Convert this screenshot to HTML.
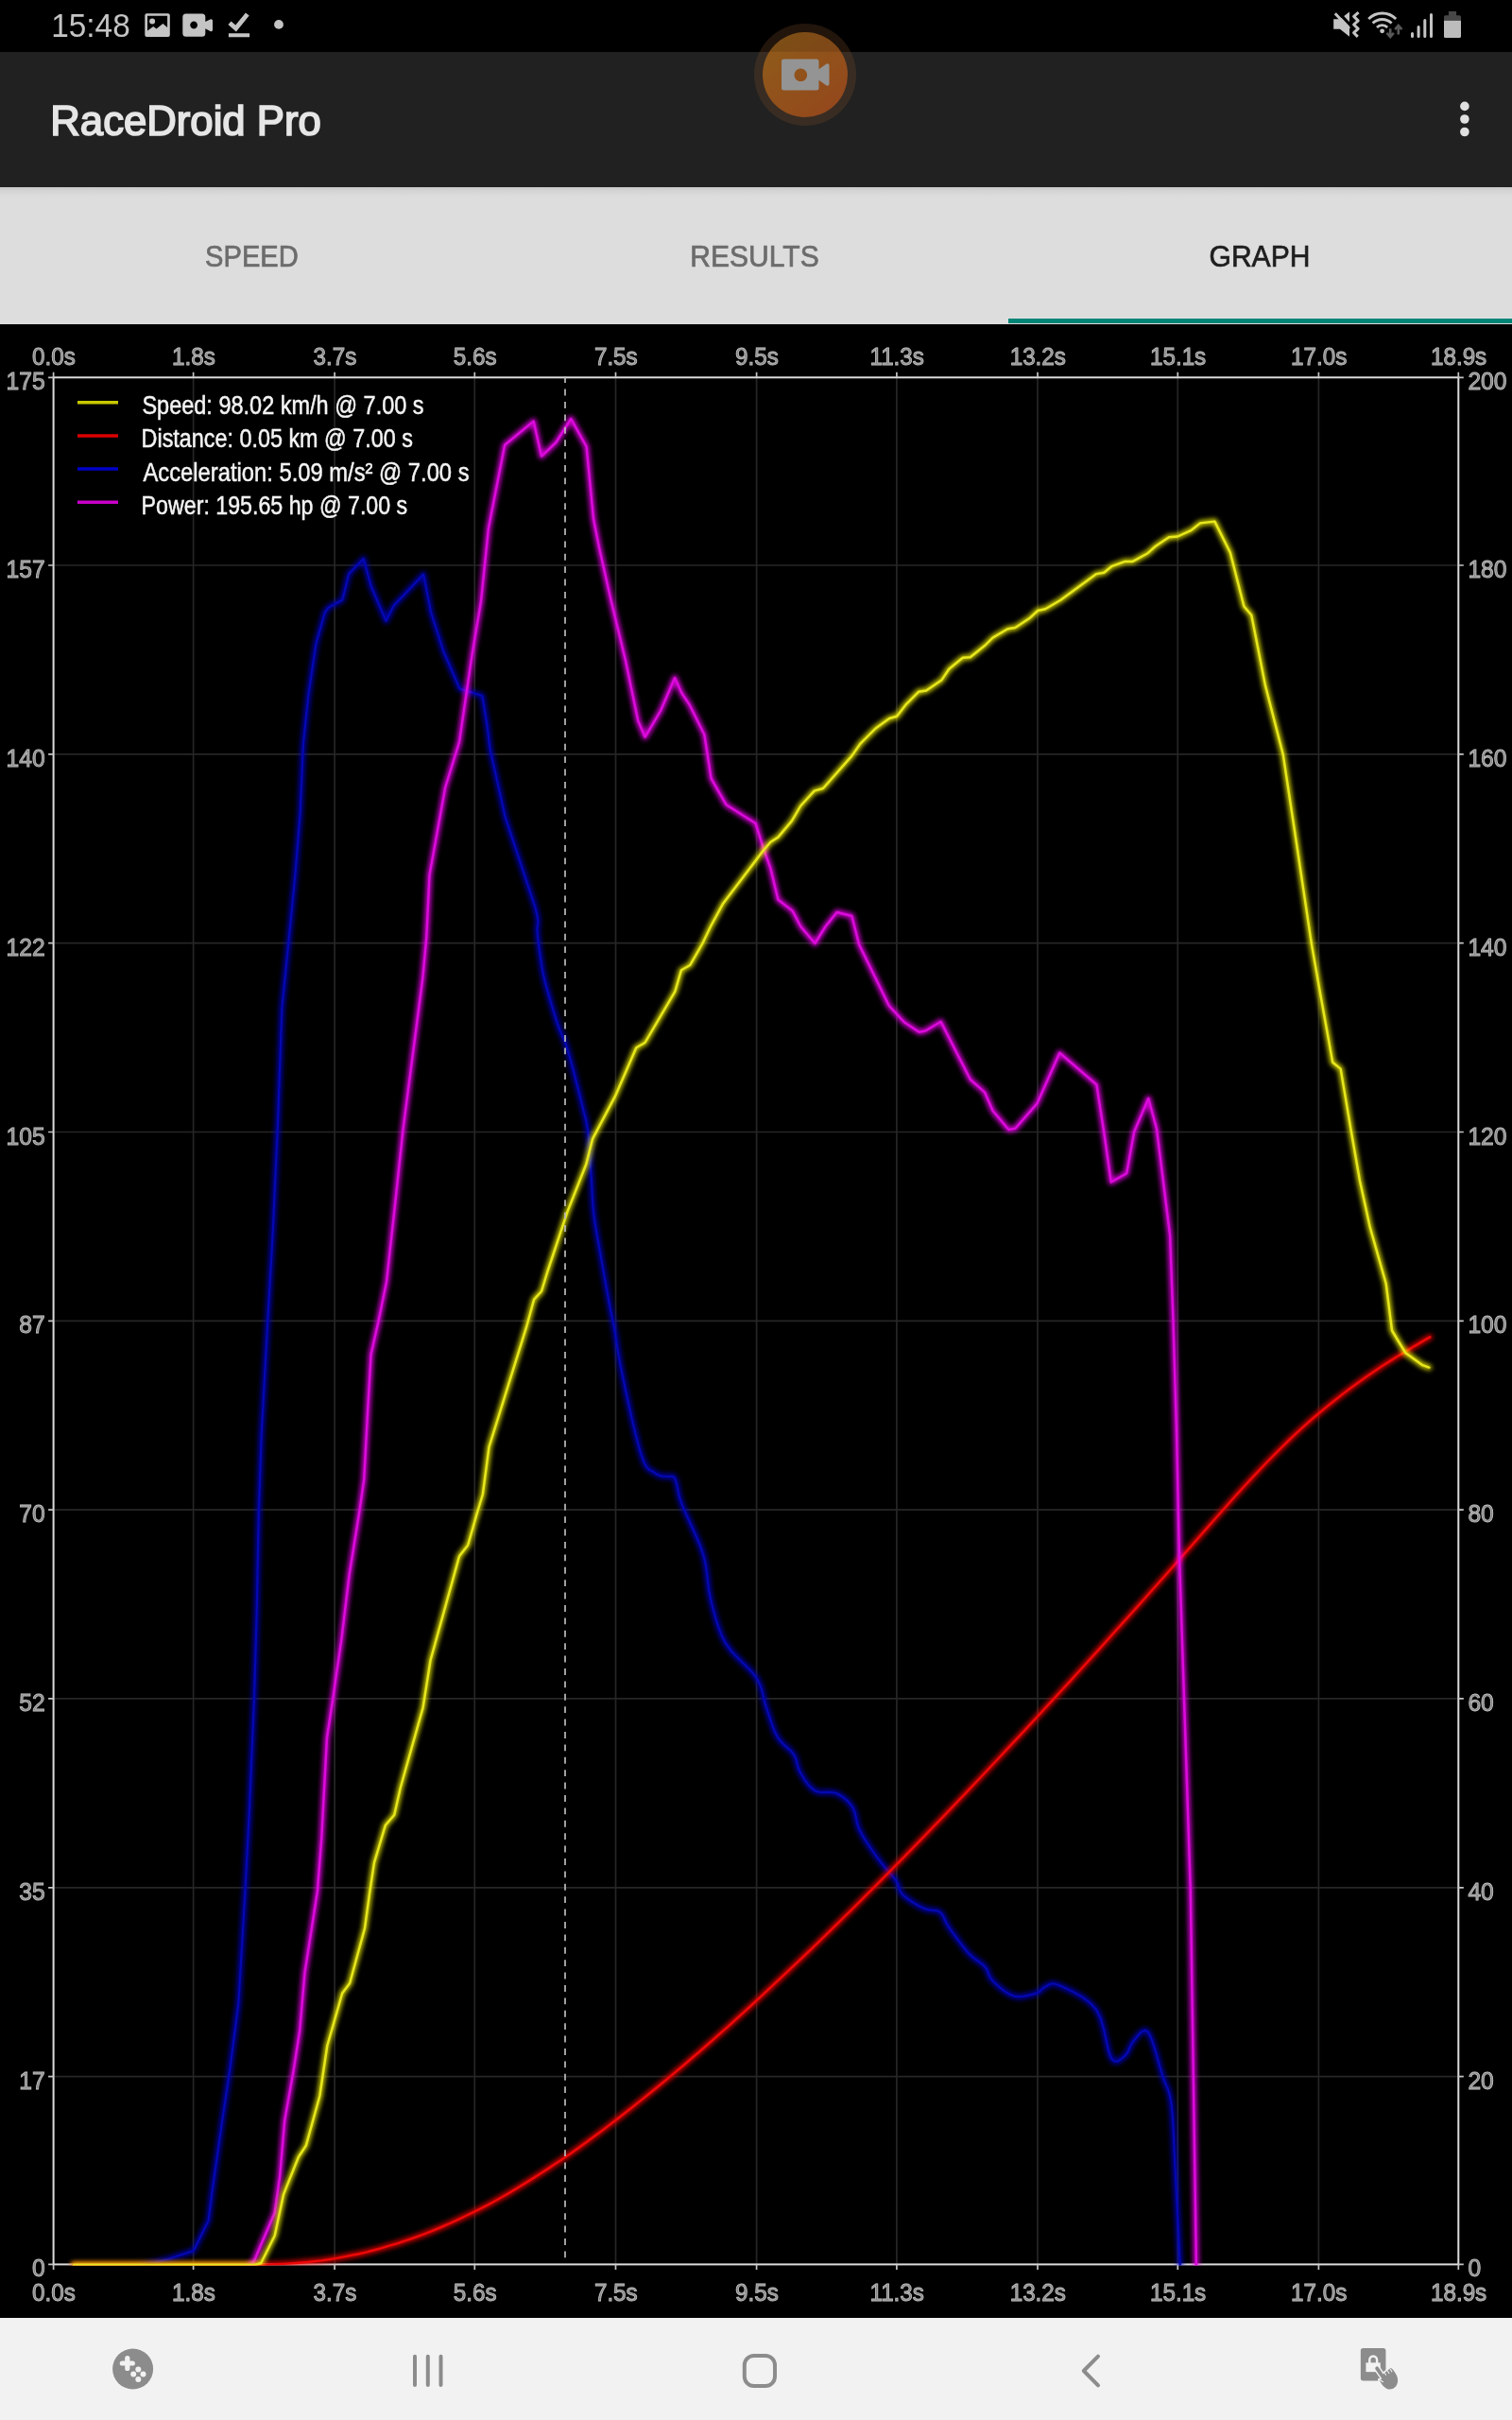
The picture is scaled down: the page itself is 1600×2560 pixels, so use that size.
<!DOCTYPE html>
<html><head><meta charset="utf-8"><title>RaceDroid Pro</title>
<style>
html,body{margin:0;padding:0;background:#000;}
body{width:1600px;height:2560px;position:relative;overflow:hidden;font-family:"Liberation Sans",sans-serif;}
svg{position:absolute;left:0;top:0;display:block;will-change:transform;font-family:"Liberation Sans",sans-serif;}
#appbar{position:absolute;left:0;top:54.5px;width:1600px;height:143.9px;background:#212121;}
#tabs{position:absolute;left:0;top:198px;width:1600px;height:144.5px;background:#dddddd;}
#tabshadow{position:absolute;left:0;top:198.4px;width:1600px;height:11px;background:linear-gradient(#c9c9c9,#d4d4d4 35%,#dadada 70%,#dddddd);}
#ind{position:absolute;left:1066.7px;top:337.4px;width:533.3px;height:5px;background:#008577;}
#nav{position:absolute;left:0;top:2452px;width:1600px;height:108px;background:#f2f2f2;}
</style></head><body>
<div id="appbar"></div>
<div id="tabs"></div><div id="tabshadow"></div><div id="ind"></div>
<div id="nav"></div>
<svg width="1600" height="2560" viewBox="0 0 1600 2560">
<defs>
<filter id="glow" x="0" y="0" width="1600" height="2560" filterUnits="userSpaceOnUse">
<feGaussianBlur stdDeviation="2.7"/>
</filter>
<clipPath id="plot"><rect x="55.6" y="398.3" width="1488.7" height="1998.1"/></clipPath>
</defs>

<path d="M204.6 399.3 V2395.4 M354.1 399.3 V2395.4 M502.3 399.3 V2395.4 M651.5 399.3 V2395.4 M800.6 399.3 V2395.4 M948.9 399.3 V2395.4 M1098 399.3 V2395.4 M1246.3 399.3 V2395.4 M1395.4 399.3 V2395.4 M56.6 598 H1543.3 M56.6 797.8 H1543.3 M56.6 997.6 H1543.3 M56.6 1197.5 H1543.3 M56.6 1397.3 H1543.3 M56.6 1597.1 H1543.3 M56.6 1796.9 H1543.3 M56.6 1996.8 H1543.3 M56.6 2196.6 H1543.3" stroke="#262626" stroke-width="1.7" fill="none"/>
<rect x="56.6" y="399.3" width="1486.7" height="1996.1" fill="none" stroke="#dcdcdc" stroke-width="2"/>
<path d="M56.6 399.3 v-5.5 M56.6 2395.4 v5.5 M204.6 399.3 v-5.5 M204.6 2395.4 v5.5 M354.1 399.3 v-5.5 M354.1 2395.4 v5.5 M502.3 399.3 v-5.5 M502.3 2395.4 v5.5 M651.5 399.3 v-5.5 M651.5 2395.4 v5.5 M800.6 399.3 v-5.5 M800.6 2395.4 v5.5 M948.9 399.3 v-5.5 M948.9 2395.4 v5.5 M1098 399.3 v-5.5 M1098 2395.4 v5.5 M1246.3 399.3 v-5.5 M1246.3 2395.4 v5.5 M1395.4 399.3 v-5.5 M1395.4 2395.4 v5.5 M1543.3 399.3 v-5.5 M1543.3 2395.4 v5.5 M56.6 399.3 h-5.5 M1543.3 399.3 h5.5 M56.6 598 h-5.5 M1543.3 598 h5.5 M56.6 797.8 h-5.5 M1543.3 797.8 h5.5 M56.6 997.6 h-5.5 M1543.3 997.6 h5.5 M56.6 1197.5 h-5.5 M1543.3 1197.5 h5.5 M56.6 1397.3 h-5.5 M1543.3 1397.3 h5.5 M56.6 1597.1 h-5.5 M1543.3 1597.1 h5.5 M56.6 1796.9 h-5.5 M1543.3 1796.9 h5.5 M56.6 1996.8 h-5.5 M1543.3 1996.8 h5.5 M56.6 2196.6 h-5.5 M1543.3 2196.6 h5.5 M56.6 2395.4 h-5.5 M1543.3 2395.4 h5.5" stroke="#c4c4c4" stroke-width="1.7" fill="none"/>
<g clip-path="url(#plot)"><path d="M78 2401 L140 2401 L158 2395 L177 2390 L204.8 2381 L220.6 2349 L224.6 2317.5 L235.2 2243.4 L243.1 2190.5 L252.4 2119 L256.3 2053 L259.5 2000 L263.8 1917.5 L269 1796.3 L271.7 1705.8 L273.8 1600 L276.7 1517.5 L283.3 1397.6 L288.6 1305.8 L293.9 1190 L298.4 1065.7 L305.3 997.7 L312.4 925.5 L317.7 859.4 L320.4 798 L320.8 788 L326.5 734 L334.4 681 L343.7 648 L347.6 642.6 L362.2 634.7 L369.3 607 L384.7 591 L392.6 620 L408.5 657 L416.4 641 L448.1 607.5 L456.1 648 L469.3 689 L486.5 728.6 L510.3 736 L515.6 768 L518.5 792 L534.7 864.7 L566.4 959.9 L568.7 969.4 L569.3 975 L569 978.3 L568.5 981.1 L568.5 985 L569 990 L569.5 994.9 L570.1 999.8 L570.7 1004.8 L571.5 1010 L572.3 1015.2 L573 1020.2 L573.9 1025.6 L575.1 1031.4 L576.7 1038.2 L578.9 1046.4 L581.6 1055.9 L584.5 1065.7 L587.4 1075.1 L590 1083.2 L592.2 1089.2 L594.1 1093.6 L596 1097.7 L598.1 1102.8 L600.5 1110 L603.5 1120.5 L607 1133.4 L610.5 1147.1 L613.8 1160 L616.4 1170.5 L618.2 1177.8 L619.6 1182.8 L620.5 1187 L621.3 1191.5 L622.2 1197.7 L623.1 1205.9 L623.8 1215.4 L624.5 1225.4 L625.1 1235.4 L625.7 1244.6 L626.2 1253 L626.6 1261 L627 1268.7 L627.5 1276.4 L628.3 1284.2 L629.3 1291.9 L630.5 1299.3 L631.8 1306.9 L633.3 1315 L634.9 1324 L636.8 1334.6 L638.9 1346.6 L641.1 1358.9 L643.2 1370.4 L645 1380 L646.3 1387 L647.4 1392.1 L648.3 1396.4 L649.2 1400.8 L650.3 1406.5 L651.4 1413.1 L652.5 1420.1 L653.6 1427.6 L655.1 1436.2 L656.9 1446 L659.4 1458 L662.3 1472.1 L665.5 1486.7 L668.6 1500.6 L671.4 1512.3 L673.8 1521.8 L675.9 1530 L678 1537.1 L680 1543 L682 1548 L684.1 1551.7 L686.2 1554 L688.2 1555.4 L690.2 1556.4 L692 1557.5 L693.6 1558.7 L695.1 1559.5 L696.4 1560.2 L697.8 1560.7 L699.2 1561.2 L700.7 1561.6 L702.4 1561.7 L704 1561.8 L705.5 1561.9 L707 1562 L708.4 1562 L709.7 1561.8 L711 1561.7 L712.2 1561.8 L713.2 1562.5 L714 1563.7 L714.6 1565.2 L715.2 1567 L715.8 1569.3 L716.5 1572 L717.1 1574.7 L717.6 1577.5 L718.3 1580.9 L719.5 1585.4 L721.7 1591.6 L725.3 1600.1 L730.2 1610.7 L735.4 1622.2 L740.4 1633.8 L744.2 1644.6 L746.6 1654.5 L748 1664.1 L749.1 1673.5 L750.2 1682.8 L752.1 1692.2 L754.5 1701.7 L757.1 1711.3 L760.1 1720.7 L763.6 1729.9 L768 1738.5 L773.8 1746.5 L780.9 1754.1 L788.3 1761.3 L795.2 1768.2 L800.5 1775 L804 1781.5 L806.1 1787.7 L807.6 1793.7 L809 1799.7 L810.8 1805.8 L813 1812.3 L815.2 1819.1 L817.5 1825.8 L820 1832.1 L822.8 1837.6 L826.1 1842.1 L829.8 1845.9 L833.6 1849.3 L837.2 1852.5 L840 1856 L841.9 1859.7 L843 1863.4 L843.8 1867.1 L844.9 1870.8 L846.6 1874.6 L849.1 1878.8 L851.9 1883.3 L855.2 1887.7 L858.7 1891.5 L862.4 1894.4 L866.6 1895.8 L871.2 1896.1 L876 1895.9 L880.6 1896 L884.9 1897 L888.8 1899 L892.6 1901.5 L896.1 1904.4 L899.3 1907.8 L902.1 1911.6 L904.1 1915.9 L905.4 1920.7 L906.4 1925.8 L907.8 1931.3 L910 1936.8 L913.2 1942.7 L917.2 1949 L921.5 1955.4 L925.8 1961.5 L929.9 1967.2 L933.9 1972.3 L938 1977.2 L941.9 1981.7 L945.5 1985.8 L948.4 1989.7 L950.2 1993.1 L951.1 1996.1 L951.8 1998.8 L952.9 2001.4 L955 2004.2 L958.6 2007.3 L963.1 2010.5 L968.1 2013.7 L973.1 2016.6 L977.5 2018.8 L981.4 2020.1 L985.1 2020.6 L988.6 2020.9 L991.9 2021.4 L994.7 2022.8 L996.9 2025 L998.4 2027.7 L999.8 2030.8 L1001.5 2034.5 L1004 2038.6 L1007.5 2043.6 L1011.8 2049.5 L1016.4 2055.7 L1020.9 2061.5 L1025.1 2066.4 L1028.9 2070.1 L1032.7 2073 L1036.3 2075.5 L1039.5 2077.9 L1042.3 2080.5 L1044.3 2083.4 L1045.5 2086.3 L1046.5 2089.2 L1047.9 2092.1 L1050.3 2095.2 L1053.9 2098.7 L1058.2 2102.6 L1063 2106.4 L1068 2109.5 L1072.8 2111.6 L1077.7 2112.3 L1082.9 2111.9 L1088.1 2110.9 L1092.8 2109.7 L1096.6 2108.5 L1099.3 2107.3 L1101.1 2105.9 L1102.4 2104.4 L1103.8 2103 L1105.8 2101.9 L1108 2100.8 L1110.1 2099.5 L1112.5 2098.5 L1115.8 2098.5 L1120.4 2100 L1127.1 2103 L1135.6 2107.1 L1144.7 2112.2 L1153.2 2118.5 L1160 2125.7 L1164.7 2135.2 L1168.1 2147 L1170.8 2159.3 L1173.2 2169.9 L1175.9 2177.2 L1179 2180.4 L1182.1 2180.7 L1185.1 2179.2 L1187.9 2176.8 L1190.5 2174.6 L1192.6 2172.2 L1194.3 2168.9 L1195.9 2165.2 L1197.6 2161.7 L1199.7 2158.7 L1202.3 2155.5 L1205.3 2151.9 L1208.5 2148.9 L1211.7 2147.7 L1214.8 2149.5 L1218 2155.5 L1221.2 2164.8 L1224.5 2175.9 L1227.5 2186.8 L1230.2 2195.8 L1232.5 2202.1 L1234.6 2206.9 L1236.4 2211.4 L1238 2217 L1239.4 2224.9 L1240.5 2235.1 L1241.3 2246.8 L1242 2260 L1242.6 2274.7 L1243.4 2291 L1244.4 2310.7 L1245.6 2333.9 L1246.8 2357.6 L1247.9 2379.1 L1248.7 2395.5 L1249.2 2405.9 L1249.6 2412.2 L1249.8 2415.8 L1249.9 2417.9 L1250 2420" stroke="#0000e0" stroke-width="6" fill="none" stroke-linejoin="round" stroke-linecap="round" filter="url(#glow)" opacity="0.72"/><path d="M78 2401 L140 2401 L158 2395 L177 2390 L204.8 2381 L220.6 2349 L224.6 2317.5 L235.2 2243.4 L243.1 2190.5 L252.4 2119 L256.3 2053 L259.5 2000 L263.8 1917.5 L269 1796.3 L271.7 1705.8 L273.8 1600 L276.7 1517.5 L283.3 1397.6 L288.6 1305.8 L293.9 1190 L298.4 1065.7 L305.3 997.7 L312.4 925.5 L317.7 859.4 L320.4 798 L320.8 788 L326.5 734 L334.4 681 L343.7 648 L347.6 642.6 L362.2 634.7 L369.3 607 L384.7 591 L392.6 620 L408.5 657 L416.4 641 L448.1 607.5 L456.1 648 L469.3 689 L486.5 728.6 L510.3 736 L515.6 768 L518.5 792 L534.7 864.7 L566.4 959.9 L568.7 969.4 L569.3 975 L569 978.3 L568.5 981.1 L568.5 985 L569 990 L569.5 994.9 L570.1 999.8 L570.7 1004.8 L571.5 1010 L572.3 1015.2 L573 1020.2 L573.9 1025.6 L575.1 1031.4 L576.7 1038.2 L578.9 1046.4 L581.6 1055.9 L584.5 1065.7 L587.4 1075.1 L590 1083.2 L592.2 1089.2 L594.1 1093.6 L596 1097.7 L598.1 1102.8 L600.5 1110 L603.5 1120.5 L607 1133.4 L610.5 1147.1 L613.8 1160 L616.4 1170.5 L618.2 1177.8 L619.6 1182.8 L620.5 1187 L621.3 1191.5 L622.2 1197.7 L623.1 1205.9 L623.8 1215.4 L624.5 1225.4 L625.1 1235.4 L625.7 1244.6 L626.2 1253 L626.6 1261 L627 1268.7 L627.5 1276.4 L628.3 1284.2 L629.3 1291.9 L630.5 1299.3 L631.8 1306.9 L633.3 1315 L634.9 1324 L636.8 1334.6 L638.9 1346.6 L641.1 1358.9 L643.2 1370.4 L645 1380 L646.3 1387 L647.4 1392.1 L648.3 1396.4 L649.2 1400.8 L650.3 1406.5 L651.4 1413.1 L652.5 1420.1 L653.6 1427.6 L655.1 1436.2 L656.9 1446 L659.4 1458 L662.3 1472.1 L665.5 1486.7 L668.6 1500.6 L671.4 1512.3 L673.8 1521.8 L675.9 1530 L678 1537.1 L680 1543 L682 1548 L684.1 1551.7 L686.2 1554 L688.2 1555.4 L690.2 1556.4 L692 1557.5 L693.6 1558.7 L695.1 1559.5 L696.4 1560.2 L697.8 1560.7 L699.2 1561.2 L700.7 1561.6 L702.4 1561.7 L704 1561.8 L705.5 1561.9 L707 1562 L708.4 1562 L709.7 1561.8 L711 1561.7 L712.2 1561.8 L713.2 1562.5 L714 1563.7 L714.6 1565.2 L715.2 1567 L715.8 1569.3 L716.5 1572 L717.1 1574.7 L717.6 1577.5 L718.3 1580.9 L719.5 1585.4 L721.7 1591.6 L725.3 1600.1 L730.2 1610.7 L735.4 1622.2 L740.4 1633.8 L744.2 1644.6 L746.6 1654.5 L748 1664.1 L749.1 1673.5 L750.2 1682.8 L752.1 1692.2 L754.5 1701.7 L757.1 1711.3 L760.1 1720.7 L763.6 1729.9 L768 1738.5 L773.8 1746.5 L780.9 1754.1 L788.3 1761.3 L795.2 1768.2 L800.5 1775 L804 1781.5 L806.1 1787.7 L807.6 1793.7 L809 1799.7 L810.8 1805.8 L813 1812.3 L815.2 1819.1 L817.5 1825.8 L820 1832.1 L822.8 1837.6 L826.1 1842.1 L829.8 1845.9 L833.6 1849.3 L837.2 1852.5 L840 1856 L841.9 1859.7 L843 1863.4 L843.8 1867.1 L844.9 1870.8 L846.6 1874.6 L849.1 1878.8 L851.9 1883.3 L855.2 1887.7 L858.7 1891.5 L862.4 1894.4 L866.6 1895.8 L871.2 1896.1 L876 1895.9 L880.6 1896 L884.9 1897 L888.8 1899 L892.6 1901.5 L896.1 1904.4 L899.3 1907.8 L902.1 1911.6 L904.1 1915.9 L905.4 1920.7 L906.4 1925.8 L907.8 1931.3 L910 1936.8 L913.2 1942.7 L917.2 1949 L921.5 1955.4 L925.8 1961.5 L929.9 1967.2 L933.9 1972.3 L938 1977.2 L941.9 1981.7 L945.5 1985.8 L948.4 1989.7 L950.2 1993.1 L951.1 1996.1 L951.8 1998.8 L952.9 2001.4 L955 2004.2 L958.6 2007.3 L963.1 2010.5 L968.1 2013.7 L973.1 2016.6 L977.5 2018.8 L981.4 2020.1 L985.1 2020.6 L988.6 2020.9 L991.9 2021.4 L994.7 2022.8 L996.9 2025 L998.4 2027.7 L999.8 2030.8 L1001.5 2034.5 L1004 2038.6 L1007.5 2043.6 L1011.8 2049.5 L1016.4 2055.7 L1020.9 2061.5 L1025.1 2066.4 L1028.9 2070.1 L1032.7 2073 L1036.3 2075.5 L1039.5 2077.9 L1042.3 2080.5 L1044.3 2083.4 L1045.5 2086.3 L1046.5 2089.2 L1047.9 2092.1 L1050.3 2095.2 L1053.9 2098.7 L1058.2 2102.6 L1063 2106.4 L1068 2109.5 L1072.8 2111.6 L1077.7 2112.3 L1082.9 2111.9 L1088.1 2110.9 L1092.8 2109.7 L1096.6 2108.5 L1099.3 2107.3 L1101.1 2105.9 L1102.4 2104.4 L1103.8 2103 L1105.8 2101.9 L1108 2100.8 L1110.1 2099.5 L1112.5 2098.5 L1115.8 2098.5 L1120.4 2100 L1127.1 2103 L1135.6 2107.1 L1144.7 2112.2 L1153.2 2118.5 L1160 2125.7 L1164.7 2135.2 L1168.1 2147 L1170.8 2159.3 L1173.2 2169.9 L1175.9 2177.2 L1179 2180.4 L1182.1 2180.7 L1185.1 2179.2 L1187.9 2176.8 L1190.5 2174.6 L1192.6 2172.2 L1194.3 2168.9 L1195.9 2165.2 L1197.6 2161.7 L1199.7 2158.7 L1202.3 2155.5 L1205.3 2151.9 L1208.5 2148.9 L1211.7 2147.7 L1214.8 2149.5 L1218 2155.5 L1221.2 2164.8 L1224.5 2175.9 L1227.5 2186.8 L1230.2 2195.8 L1232.5 2202.1 L1234.6 2206.9 L1236.4 2211.4 L1238 2217 L1239.4 2224.9 L1240.5 2235.1 L1241.3 2246.8 L1242 2260 L1242.6 2274.7 L1243.4 2291 L1244.4 2310.7 L1245.6 2333.9 L1246.8 2357.6 L1247.9 2379.1 L1248.7 2395.5 L1249.2 2405.9 L1249.6 2412.2 L1249.8 2415.8 L1249.9 2417.9 L1250 2420" stroke="#0408b2" stroke-width="2.15" fill="none" stroke-linejoin="round" stroke-linecap="round"/></g>
<g clip-path="url(#plot)"><path d="M78 2396 L270 2396 L284 2395.6 L292 2395.3 L300 2394.9 L308 2394.4 L316 2393.8 L324 2393.1 L332 2392.3 L340 2391.4 L348 2390.2 L356 2388.9 L364 2387.4 L372 2385.8 L380 2384.2 L388 2382.4 L396 2380.3 L404 2378.1 L412 2375.7 L420 2373.3 L428 2370.7 L436 2368 L444 2365.1 L452 2362.1 L460 2358.9 L468 2355.5 L476 2352 L484 2348.3 L492 2344.5 L500 2340.7 L508 2336.7 L516 2332.6 L524 2328.2 L532 2323.7 L540 2319.1 L548 2314.3 L556 2309.4 L564 2304.4 L572 2299.3 L580 2294.1 L588 2288.8 L596 2283.4 L604 2277.9 L612 2272.2 L620 2266.5 L628 2260.6 L636 2254.7 L644 2248.6 L652 2242.5 L660 2236.3 L668 2230 L676 2223.6 L684 2217.2 L692 2210.7 L700 2204.2 L708 2197.6 L716 2190.9 L724 2184.2 L732 2177.3 L740 2170.5 L748 2163.5 L756 2156.5 L764 2149.4 L772 2142.3 L780 2135 L788 2127.8 L796 2120.5 L804 2113.1 L812 2105.7 L820 2098.2 L828 2090.7 L836 2083.2 L844 2075.6 L852 2068 L860 2060.3 L868 2052.6 L876 2044.8 L884 2037 L892 2029.2 L900 2021.3 L908 2013.4 L916 2005.4 L924 1997.4 L932 1989.4 L940 1981.3 L948 1973.2 L956 1965.1 L964 1956.9 L972 1948.7 L980 1940.4 L988 1932.2 L996 1923.9 L1004 1915.6 L1012 1907.2 L1020 1898.8 L1028 1890.4 L1036 1882 L1044 1873.5 L1052 1865 L1060 1856.5 L1068 1847.9 L1076 1839.4 L1084 1830.8 L1092 1822.2 L1100 1813.5 L1108 1804.9 L1116 1796.2 L1124 1787.5 L1132 1778.8 L1140 1770 L1148 1761.2 L1156 1752.4 L1164 1743.6 L1172 1734.7 L1180 1725.8 L1188 1716.9 L1196 1708 L1204 1699.1 L1212 1690.2 L1220 1681.2 L1228 1672.2 L1236 1663.2 L1244 1654.2 L1252 1645.1 L1260 1636.1 L1268 1627 L1276 1617.9 L1284 1608.8 L1292 1599.7 L1300 1590.7 L1308 1581.8 L1316 1573 L1324 1564.4 L1332 1555.8 L1340 1547.5 L1348 1539.3 L1356 1531.3 L1364 1523.5 L1372 1515.9 L1380 1508.6 L1388 1501.5 L1396 1494.7 L1404 1488.1 L1412 1481.7 L1420 1475.4 L1428 1469.3 L1436 1463.4 L1444 1457.7 L1452 1452.2 L1460 1446.8 L1468 1441.6 L1476 1436.6 L1484 1431.7 L1492 1426.9 L1500 1422.1 L1508 1417.4 L1513.3 1414.4" stroke="#ff0000" stroke-width="6" fill="none" stroke-linejoin="round" stroke-linecap="round" filter="url(#glow)" opacity="0.8"/><path d="M78 2396 L270 2396 L284 2395.6 L292 2395.3 L300 2394.9 L308 2394.4 L316 2393.8 L324 2393.1 L332 2392.3 L340 2391.4 L348 2390.2 L356 2388.9 L364 2387.4 L372 2385.8 L380 2384.2 L388 2382.4 L396 2380.3 L404 2378.1 L412 2375.7 L420 2373.3 L428 2370.7 L436 2368 L444 2365.1 L452 2362.1 L460 2358.9 L468 2355.5 L476 2352 L484 2348.3 L492 2344.5 L500 2340.7 L508 2336.7 L516 2332.6 L524 2328.2 L532 2323.7 L540 2319.1 L548 2314.3 L556 2309.4 L564 2304.4 L572 2299.3 L580 2294.1 L588 2288.8 L596 2283.4 L604 2277.9 L612 2272.2 L620 2266.5 L628 2260.6 L636 2254.7 L644 2248.6 L652 2242.5 L660 2236.3 L668 2230 L676 2223.6 L684 2217.2 L692 2210.7 L700 2204.2 L708 2197.6 L716 2190.9 L724 2184.2 L732 2177.3 L740 2170.5 L748 2163.5 L756 2156.5 L764 2149.4 L772 2142.3 L780 2135 L788 2127.8 L796 2120.5 L804 2113.1 L812 2105.7 L820 2098.2 L828 2090.7 L836 2083.2 L844 2075.6 L852 2068 L860 2060.3 L868 2052.6 L876 2044.8 L884 2037 L892 2029.2 L900 2021.3 L908 2013.4 L916 2005.4 L924 1997.4 L932 1989.4 L940 1981.3 L948 1973.2 L956 1965.1 L964 1956.9 L972 1948.7 L980 1940.4 L988 1932.2 L996 1923.9 L1004 1915.6 L1012 1907.2 L1020 1898.8 L1028 1890.4 L1036 1882 L1044 1873.5 L1052 1865 L1060 1856.5 L1068 1847.9 L1076 1839.4 L1084 1830.8 L1092 1822.2 L1100 1813.5 L1108 1804.9 L1116 1796.2 L1124 1787.5 L1132 1778.8 L1140 1770 L1148 1761.2 L1156 1752.4 L1164 1743.6 L1172 1734.7 L1180 1725.8 L1188 1716.9 L1196 1708 L1204 1699.1 L1212 1690.2 L1220 1681.2 L1228 1672.2 L1236 1663.2 L1244 1654.2 L1252 1645.1 L1260 1636.1 L1268 1627 L1276 1617.9 L1284 1608.8 L1292 1599.7 L1300 1590.7 L1308 1581.8 L1316 1573 L1324 1564.4 L1332 1555.8 L1340 1547.5 L1348 1539.3 L1356 1531.3 L1364 1523.5 L1372 1515.9 L1380 1508.6 L1388 1501.5 L1396 1494.7 L1404 1488.1 L1412 1481.7 L1420 1475.4 L1428 1469.3 L1436 1463.4 L1444 1457.7 L1452 1452.2 L1460 1446.8 L1468 1441.6 L1476 1436.6 L1484 1431.7 L1492 1426.9 L1500 1422.1 L1508 1417.4 L1513.3 1414.4" stroke="#ee0808" stroke-width="2.45" fill="none" stroke-linejoin="round" stroke-linecap="round"/></g>
<g clip-path="url(#plot)"><path d="M78 2401 L261 2401 L269 2391.5 L290.6 2341 L296.2 2301.6 L301.2 2243.4 L310.6 2190.5 L317.2 2148 L322.5 2087 L336 2000 L340.3 1944 L346 1838 L352.4 1796.3 L361.6 1732.3 L369.6 1666 L380.2 1600 L385.2 1565 L389.2 1491 L392.6 1432.8 L400.5 1397.6 L409 1356 L416.9 1284.7 L426.5 1195 L447.4 1034 L451.3 991.6 L454.5 925.5 L471.2 833 L486 785 L499.7 691.6 L509 636 L516.9 559 L534.1 470.7 L564.6 445.6 L573 482.6 L588.4 468 L604.2 443 L620.6 472.5 L628 548.7 L634.2 580 L646.1 633 L662 699 L675.2 762.5 L682.6 779.7 L699 752 L714.1 717 L721.5 733.4 L729.5 745.3 L745.3 777 L749.3 802.2 L752.5 823.4 L768.4 851.2 L799.6 871 L807 894.8 L815.4 918.6 L823.4 951.7 L838.7 963.6 L847.2 980 L862.4 998 L873.6 980 L885.6 965 L901.4 969 L909.1 999.2 L940.8 1064 L956.7 1081.2 L972.6 1091.8 L979.2 1090.5 L995.6 1080.7 L1026.8 1142 L1041.9 1155.3 L1050.6 1175 L1067.3 1195 L1074.4 1193.7 L1097.5 1167.2 L1121.3 1113.8 L1160.4 1147.4 L1168.4 1199 L1175.8 1250.5 L1192.2 1241.3 L1200.1 1197.6 L1215.2 1161.9 L1223.9 1193.7 L1231 1250 L1238.1 1306.9 L1241.5 1397.6 L1245 1514.6 L1248.1 1650 L1259.8 2000 L1265.9 2395.5 L1266.3 2420" stroke="#ff00ff" stroke-width="6" fill="none" stroke-linejoin="round" stroke-linecap="round" filter="url(#glow)" opacity="0.8"/><path d="M78 2401 L261 2401 L269 2391.5 L290.6 2341 L296.2 2301.6 L301.2 2243.4 L310.6 2190.5 L317.2 2148 L322.5 2087 L336 2000 L340.3 1944 L346 1838 L352.4 1796.3 L361.6 1732.3 L369.6 1666 L380.2 1600 L385.2 1565 L389.2 1491 L392.6 1432.8 L400.5 1397.6 L409 1356 L416.9 1284.7 L426.5 1195 L447.4 1034 L451.3 991.6 L454.5 925.5 L471.2 833 L486 785 L499.7 691.6 L509 636 L516.9 559 L534.1 470.7 L564.6 445.6 L573 482.6 L588.4 468 L604.2 443 L620.6 472.5 L628 548.7 L634.2 580 L646.1 633 L662 699 L675.2 762.5 L682.6 779.7 L699 752 L714.1 717 L721.5 733.4 L729.5 745.3 L745.3 777 L749.3 802.2 L752.5 823.4 L768.4 851.2 L799.6 871 L807 894.8 L815.4 918.6 L823.4 951.7 L838.7 963.6 L847.2 980 L862.4 998 L873.6 980 L885.6 965 L901.4 969 L909.1 999.2 L940.8 1064 L956.7 1081.2 L972.6 1091.8 L979.2 1090.5 L995.6 1080.7 L1026.8 1142 L1041.9 1155.3 L1050.6 1175 L1067.3 1195 L1074.4 1193.7 L1097.5 1167.2 L1121.3 1113.8 L1160.4 1147.4 L1168.4 1199 L1175.8 1250.5 L1192.2 1241.3 L1200.1 1197.6 L1215.2 1161.9 L1223.9 1193.7 L1231 1250 L1238.1 1306.9 L1241.5 1397.6 L1245 1514.6 L1248.1 1650 L1259.8 2000 L1265.9 2395.5 L1266.3 2420" stroke="#dc0adc" stroke-width="2.45" fill="none" stroke-linejoin="round" stroke-linecap="round"/></g>
<g clip-path="url(#plot)"><path d="M78 2396 L270 2396 L276.2 2394 L290.7 2365 L300 2321.4 L315.9 2281.7 L323.8 2269.8 L338.4 2217 L342.3 2190.5 L346.3 2164 L362.2 2108.5 L370.1 2098 L386 2039.7 L391.5 2000 L396 1970.4 L407.9 1930.7 L417.2 1920 L423.8 1891 L447.6 1806.3 L455.6 1756 L486 1646.3 L495.2 1634.4 L505 1600 L510.8 1581 L517.5 1530.7 L557.1 1403.7 L565.1 1374.6 L573 1366 L579.4 1345 L600.5 1281.6 L620.4 1231.3 L627 1204.9 L650.8 1159.9 L673.3 1108.3 L682.5 1103 L714.3 1048.8 L720.9 1026.3 L730.2 1021 L743.4 998 L752 980 L765.2 955.7 L807.5 900 L815.4 890.8 L823.4 885.6 L837.9 868.4 L847.2 852.5 L861.7 836.6 L871 834 L901.4 799.6 L910.7 786.3 L926.6 770.5 L941.1 760 L949 757.8 L958.3 745.7 L972 731.8 L980.2 730.5 L996.3 719.6 L1004.2 707.7 L1018.8 695.8 L1026.7 695.2 L1042.6 682.5 L1050.5 674.6 L1066.4 665.3 L1074.3 664 L1090.2 653.4 L1098.1 646 L1106.1 644.2 L1122 635 L1160.3 607.1 L1168.3 605.8 L1176.2 599.2 L1190.7 593.9 L1198.7 593.9 L1214.6 585.2 L1222.5 578 L1237 568.3 L1246.3 567.5 L1260.8 560.8 L1270.1 553.4 L1285.4 551.6 L1301.9 584.7 L1316.4 641.5 L1324.3 650.8 L1338.9 724.9 L1357.8 798.4 L1372 892.3 L1387.8 998.1 L1397.1 1051 L1410.2 1123.8 L1418.6 1130.6 L1430 1197.8 L1438.9 1248.8 L1449.8 1298.4 L1466.7 1358 L1473 1407.5 L1479.6 1418.5 L1487.5 1431.3 L1505.4 1444.2 L1512.3 1446.6" stroke="#ffff00" stroke-width="6" fill="none" stroke-linejoin="round" stroke-linecap="round" filter="url(#glow)" opacity="0.8"/><path d="M78 2396 L270 2396 L276.2 2394 L290.7 2365 L300 2321.4 L315.9 2281.7 L323.8 2269.8 L338.4 2217 L342.3 2190.5 L346.3 2164 L362.2 2108.5 L370.1 2098 L386 2039.7 L391.5 2000 L396 1970.4 L407.9 1930.7 L417.2 1920 L423.8 1891 L447.6 1806.3 L455.6 1756 L486 1646.3 L495.2 1634.4 L505 1600 L510.8 1581 L517.5 1530.7 L557.1 1403.7 L565.1 1374.6 L573 1366 L579.4 1345 L600.5 1281.6 L620.4 1231.3 L627 1204.9 L650.8 1159.9 L673.3 1108.3 L682.5 1103 L714.3 1048.8 L720.9 1026.3 L730.2 1021 L743.4 998 L752 980 L765.2 955.7 L807.5 900 L815.4 890.8 L823.4 885.6 L837.9 868.4 L847.2 852.5 L861.7 836.6 L871 834 L901.4 799.6 L910.7 786.3 L926.6 770.5 L941.1 760 L949 757.8 L958.3 745.7 L972 731.8 L980.2 730.5 L996.3 719.6 L1004.2 707.7 L1018.8 695.8 L1026.7 695.2 L1042.6 682.5 L1050.5 674.6 L1066.4 665.3 L1074.3 664 L1090.2 653.4 L1098.1 646 L1106.1 644.2 L1122 635 L1160.3 607.1 L1168.3 605.8 L1176.2 599.2 L1190.7 593.9 L1198.7 593.9 L1214.6 585.2 L1222.5 578 L1237 568.3 L1246.3 567.5 L1260.8 560.8 L1270.1 553.4 L1285.4 551.6 L1301.9 584.7 L1316.4 641.5 L1324.3 650.8 L1338.9 724.9 L1357.8 798.4 L1372 892.3 L1387.8 998.1 L1397.1 1051 L1410.2 1123.8 L1418.6 1130.6 L1430 1197.8 L1438.9 1248.8 L1449.8 1298.4 L1466.7 1358 L1473 1407.5 L1479.6 1418.5 L1487.5 1431.3 L1505.4 1444.2 L1512.3 1446.6" stroke="#e8e81e" stroke-width="2.45" fill="none" stroke-linejoin="round" stroke-linecap="round"/></g>
<path d="M598 398.2 V2391.5" stroke="#bcbcbc" stroke-width="1.7" stroke-dasharray="6.9 6.5" fill="none"/>
<g font-size="26.5" fill="#848484" stroke="#c0c0c0" stroke-width="0.95" text-anchor="middle">
<text transform="translate(56.9 386.3) scale(0.915 1)">0.0s</text>
<text transform="translate(56.9 2434.2) scale(0.915 1)">0.0s</text>
<text transform="translate(204.9 386.3) scale(0.915 1)">1.8s</text>
<text transform="translate(204.9 2434.2) scale(0.915 1)">1.8s</text>
<text transform="translate(354.4 386.3) scale(0.915 1)">3.7s</text>
<text transform="translate(354.4 2434.2) scale(0.915 1)">3.7s</text>
<text transform="translate(502.6 386.3) scale(0.915 1)">5.6s</text>
<text transform="translate(502.6 2434.2) scale(0.915 1)">5.6s</text>
<text transform="translate(651.8 386.3) scale(0.915 1)">7.5s</text>
<text transform="translate(651.8 2434.2) scale(0.915 1)">7.5s</text>
<text transform="translate(800.9 386.3) scale(0.915 1)">9.5s</text>
<text transform="translate(800.9 2434.2) scale(0.915 1)">9.5s</text>
<text transform="translate(949.2 386.3) scale(0.915 1)">11.3s</text>
<text transform="translate(949.2 2434.2) scale(0.915 1)">11.3s</text>
<text transform="translate(1098.3 386.3) scale(0.915 1)">13.2s</text>
<text transform="translate(1098.3 2434.2) scale(0.915 1)">13.2s</text>
<text transform="translate(1246.6 386.3) scale(0.915 1)">15.1s</text>
<text transform="translate(1246.6 2434.2) scale(0.915 1)">15.1s</text>
<text transform="translate(1395.7 386.3) scale(0.915 1)">17.0s</text>
<text transform="translate(1395.7 2434.2) scale(0.915 1)">17.0s</text>
<text transform="translate(1543.6 386.3) scale(0.915 1)">18.9s</text>
<text transform="translate(1543.6 2434.2) scale(0.915 1)">18.9s</text>
</g>
<g font-size="26.5" fill="#848484" stroke="#c0c0c0" stroke-width="0.95" text-anchor="end">
<text transform="translate(47.6 412.3) scale(0.93 1)">175</text>
<text transform="translate(47.6 611) scale(0.93 1)">157</text>
<text transform="translate(47.6 810.8) scale(0.93 1)">140</text>
<text transform="translate(47.6 1010.6) scale(0.93 1)">122</text>
<text transform="translate(47.6 1210.5) scale(0.93 1)">105</text>
<text transform="translate(47.6 1410.3) scale(0.93 1)">87</text>
<text transform="translate(47.6 1610.1) scale(0.93 1)">70</text>
<text transform="translate(47.6 1809.9) scale(0.93 1)">52</text>
<text transform="translate(47.6 2009.8) scale(0.93 1)">35</text>
<text transform="translate(47.6 2209.6) scale(0.93 1)">17</text>
<text transform="translate(47.6 2408.4) scale(0.93 1)">0</text>
</g>
<g font-size="26.5" fill="#848484" stroke="#c0c0c0" stroke-width="0.95">
<text transform="translate(1553.4 412.3) scale(0.93 1)">200</text>
<text transform="translate(1553.4 611) scale(0.93 1)">180</text>
<text transform="translate(1553.4 810.8) scale(0.93 1)">160</text>
<text transform="translate(1553.4 1010.6) scale(0.93 1)">140</text>
<text transform="translate(1553.4 1210.5) scale(0.93 1)">120</text>
<text transform="translate(1553.4 1410.3) scale(0.93 1)">100</text>
<text transform="translate(1553.4 1610.1) scale(0.93 1)">80</text>
<text transform="translate(1553.4 1809.9) scale(0.93 1)">60</text>
<text transform="translate(1553.4 2009.8) scale(0.93 1)">40</text>
<text transform="translate(1553.4 2209.6) scale(0.93 1)">20</text>
<text transform="translate(1553.4 2408.4) scale(0.93 1)">0</text>
</g>
<path d="M82 425.8 H125" stroke="#c8c800" stroke-width="3.5"/>
<text transform="translate(150.4 438.3) scale(0.8473 1)" font-size="27.75" fill="#f4f4f4" stroke="#f4f4f4" stroke-width="0.5">Speed: 98.02 km/h @ 7.00 s</text>
<path d="M82 460.9 H125" stroke="#dc0000" stroke-width="3.5"/>
<text transform="translate(149.6 473.4) scale(0.8419 1)" font-size="27.75" fill="#f4f4f4" stroke="#f4f4f4" stroke-width="0.5">Distance: 0.05 km @ 7.00 s</text>
<path d="M82 496.1 H125" stroke="#0000c8" stroke-width="3.5"/>
<text transform="translate(151.5 508.5) scale(0.8565 1)" font-size="27.75" fill="#f4f4f4" stroke="#f4f4f4" stroke-width="0.5">Acceleration: 5.09 m/s² @ 7.00 s</text>
<path d="M82 531.2 H125" stroke="#c800c8" stroke-width="3.5"/>
<text transform="translate(149.6 543.7) scale(0.8364 1)" font-size="27.75" fill="#f4f4f4" stroke="#f4f4f4" stroke-width="0.5">Power: 195.65 hp @ 7.00 s</text>
<text transform="translate(54.2 38.8) scale(0.9734 1)" font-size="34.29" fill="#c4c4c4">15:48</text>
<g fill="#c4c4c4">
<path fill-rule="evenodd" d="M155.3 14.3h22.5a2 2 0 0 1 2 2v20.6a2 2 0 0 1-2 2h-22.5a2 2 0 0 1-2-2V16.3a2 2 0 0 1 2-2z M156 16.800V32.600L162.300 28.100L165.500 30.500L172.400 25.100L177.100 28.900V16.800z"/>
<circle cx="161.100" cy="22.500" r="3"/>
<path fill-rule="evenodd" d="M196.800 14.600h17a3.500 3.500 0 0 1 3.500 3.500v5l5.200-2.600a1.600 1.600 0 0 1 2.500 1.300v9.900a1.600 1.600 0 0 1-2.500 1.300l-5.200-2.700v5a3.500 3.500 0 0 1-3.500 3.500h-17a3.500 3.500 0 0 1-3.500-3.500V18.100a3.500 3.500 0 0 1 3.500-3.500z M205.100 22.600a3.900 3.900 0 1 0 0.010 0z"/>
<path d="M241.9 35.2h22.2v4.1h-22.2z"/>
</g>
<path d="M243 24.200l6.600 5.800 12.200-15" stroke="#c4c4c4" stroke-width="4.800" fill="none"/>
<circle cx="295" cy="25.9" r="4.9" fill="#c4c4c4"/>
<path d="M1411.200 20.300h6.800l10-7.700v26.200l-10-8h-6.800z" fill="#c4c4c4"/>
<path d="M1414.800 11.500L1430.200 27.800" stroke="#000" stroke-width="3.200"/>
<path d="M1412.800 14.200L1428 30.300" stroke="#c4c4c4" stroke-width="3"/>
<path d="M1437.600 13.200L1432.600 17.400L1437.200 21.900L1432.600 26L1437.200 30.300L1432.600 34.700L1436.800 38.900" stroke="#c4c4c4" stroke-width="3" fill="none" stroke-linejoin="round"/>
<g fill="none" stroke="#c4c4c4" stroke-width="2.800">
<path d="M1448.200 20a20.500 20.500 0 0 1 29 0"/>
<path d="M1452.600 24.600a14.200 14.200 0 0 1 20 0"/>
<path d="M1457 29a8 8 0 0 1 11.200 0"/>
</g>
<circle cx="1462.600" cy="32.800" r="2.400" fill="#c4c4c4"/>
<path d="M1471.200 30.200v7.500M1467.600 34.800l3.600 4.200l3.600-4.200M1479.800 36.400v-7.500M1476.200 31.200l3.600-4.200l3.600 4.200" stroke="#585858" stroke-width="2.600" fill="none"/>
<g stroke="#c4c4c4" stroke-width="3" stroke-linecap="round">
<path d="M1494.500 35.400V38.500M1501.100 28.500V38.500M1507.800 21.600V38.500M1514.500 15.500V38.500"/>
</g>
<path d="M1532.900 11.900h8.200v4.300h3.300a1.600 1.600 0 0 1 1.600 1.600v3.900h-18v-3.900a1.600 1.600 0 0 1 1.600-1.600h3.300z" fill="#474747"/>
<path d="M1528 21.700h18v16.700a1.600 1.600 0 0 1-1.600 1.600h-14.800a1.600 1.600 0 0 1-1.600-1.600z" fill="#bcbcbc"/>
<text transform="translate(53.3 142.7) scale(1.0017 1)" font-size="43.62" fill="#e6e6e6" stroke="#e6e6e6" stroke-width="1.7">RaceDroid Pro</text>
<g fill="#e0e0e0"><circle cx="1549.9" cy="112.4" r="4.8"/><circle cx="1549.9" cy="126" r="4.8"/><circle cx="1549.9" cy="139.5" r="4.8"/></g>
<defs><linearGradient id="og" x1="0.15" y1="0.1" x2="0.85" y2="0.9"><stop offset="0" stop-color="#8f5a1a"/><stop offset="1" stop-color="#94481c"/></linearGradient></defs>
<circle cx="852" cy="79" r="54" fill="#7a4a28" fill-opacity="0.28"/>
<circle cx="852" cy="79" r="45" fill="url(#og)"/>
<path d="M814.100 54.700A45 45 0 0 1 889.900 54.700Z" fill="#000" fill-opacity="0.12"/>

<path fill-rule="evenodd" d="M829.500 62.500h34.500a2.500 2.500 0 0 1 2.500 2.500v8.300l7.800-5.600a2 2 0 0 1 3.200 1.600v19.400a2 2 0 0 1-3.200 1.600l-7.800-5.600v8.300a2.500 2.500 0 0 1-2.500 2.500h-34.500a2.500 2.500 0 0 1-2.500-2.500v-28a2.500 2.500 0 0 1 2.500-2.500z M847.300 72.500a6.800 6.800 0 1 0 0.010 0z" fill="#949494"/>
<text transform="translate(217.1 282.1) scale(0.9213 1)" font-size="31.59" fill="#6c6c6c" stroke="#6c6c6c" stroke-width="0.7">SPEED</text>
<text transform="translate(730.3 282.1) scale(0.9519 1)" font-size="31.59" fill="#6c6c6c" stroke="#6c6c6c" stroke-width="0.7">RESULTS</text>
<text transform="translate(1279.5 282.4) scale(0.9393 1)" font-size="32.03" fill="#1e1e1e" stroke="#1e1e1e" stroke-width="0.7">GRAPH</text>
<circle cx="140.6" cy="2506" r="21.5" fill="#8c8c8c"/>
<path d="M129.300 2500h11M134.800 2494.500v11" stroke="#f2f2f2" stroke-width="5.200" stroke-linecap="round"/>
<g fill="#f2f2f2"><circle cx="146.300" cy="2506.400" r="3"/><circle cx="141.200" cy="2511.500" r="3"/><circle cx="151.500" cy="2511.500" r="3"/><circle cx="146.300" cy="2516.900" r="3"/></g>
<path d="M439 2492.700V2523M452.800 2492.700V2523M466.500 2492.700V2523" stroke="#8c8c8c" stroke-width="4" stroke-linecap="round"/>
<rect x="787.800" y="2492" width="32.200" height="32" rx="10" ry="10" fill="none" stroke="#8c8c8c" stroke-width="4"/>
<path d="M1162 2492.700L1146.800 2508L1162 2523.300" fill="none" stroke="#8c8c8c" stroke-width="4" stroke-linecap="round" stroke-linejoin="round"/>
<g transform="translate(1420 2470) scale(0.05291)">
<rect x="375" y="265" width="503" height="650" rx="52" fill="#8c8c8c"/>
<rect x="480" y="555" width="290" height="185" fill="#f2f2f2"/>
<path d="M553 565V500a74 74 0 0 1 148 0V565" fill="none" stroke="#f2f2f2" stroke-width="46"/>
<path d="M702 668L862 900" stroke="#f2f2f2" stroke-width="128" stroke-linecap="round"/>
<path d="M835 770L975 662C1005 665 1060 740 1095 810C1130 890 1125 960 1085 1020C1040 1080 970 1100 910 1080C850 1060 790 990 745 895L800 880Z" fill="#f2f2f2" stroke="#f2f2f2" stroke-width="56" stroke-linejoin="round"/>
<path d="M702 668L862 900" stroke="#8c8c8c" stroke-width="72" stroke-linecap="round"/>
<path d="M835 770L975 662C1005 665 1060 740 1095 810C1130 890 1125 960 1085 1020C1040 1080 970 1100 910 1080C850 1060 790 990 745 895L800 880Z" fill="#8c8c8c"/>
<path d="M843 742L880 800M905 708L945 770M965 680L1000 735M752 892L822 940" stroke="#f2f2f2" stroke-width="20" stroke-linecap="round"/>
</g>
</svg></body></html>
